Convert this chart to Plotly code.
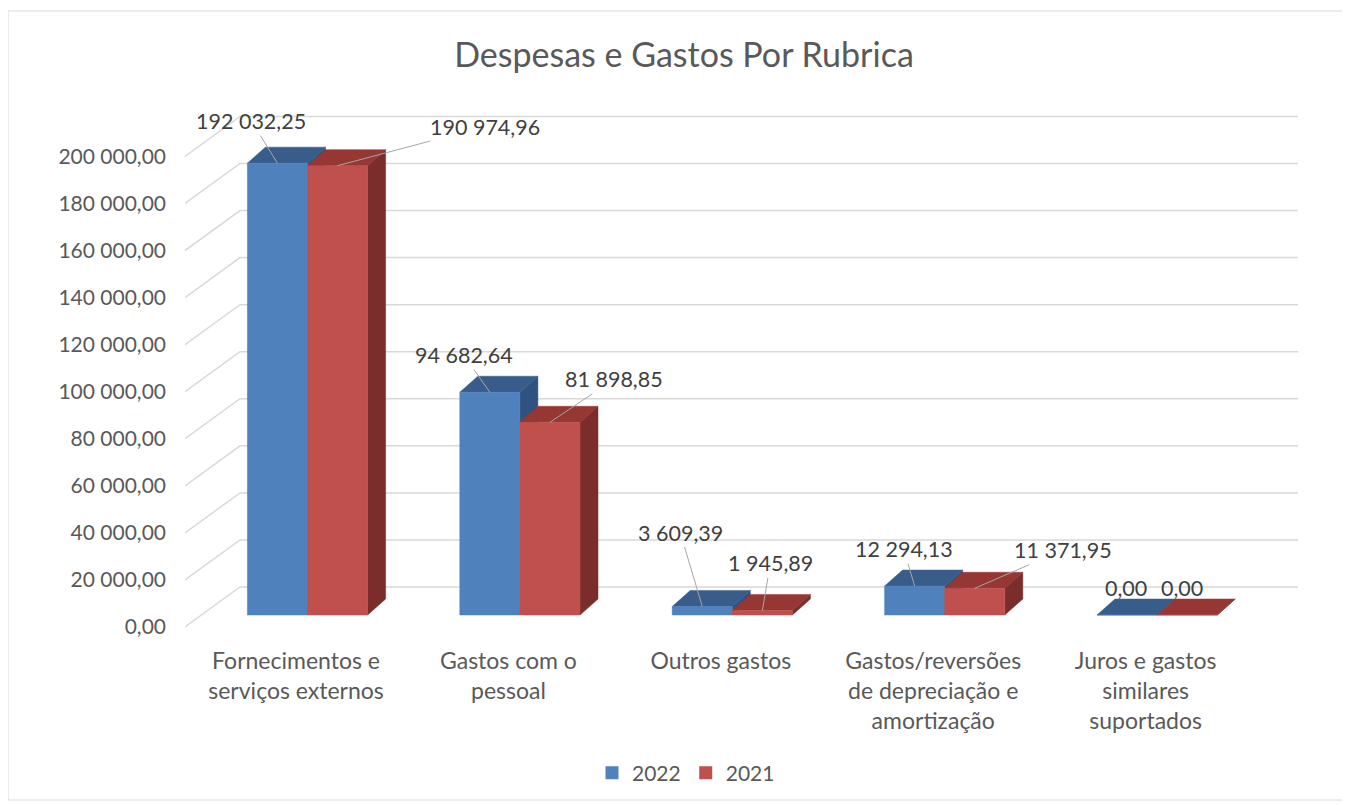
import plotly.graph_objects as go

# ---------------- data ----------------
categories = [
    "Fornecimentos e<br>serviços externos",
    "Gastos com o<br>pessoal",
    "Outros gastos",
    "Gastos/reversões<br>de depreciação e<br>amortização",
    "Juros e gastos<br>similares<br>suportados",
]
series_names = ["2022", "2021"]
values_2022 = [192032.25, 94682.64, 3609.39, 12294.13, 0.00]
values_2021 = [190974.96, 81898.85, 1945.89, 11371.95, 0.00]
y_ticks = [0, 20000, 40000, 60000, 80000, 100000, 120000, 140000, 160000, 180000, 200000]

# ---------------- style / geometry ----------------
OFF = 8                      # page body margin in the browser
W, H = 1350 - OFF, 805 - OFF
# positions below are page pixels; converted to figure pixels by subtracting OFF
L, R, T, B = 185 - OFF, 1310 - OFF, 100 - OFF, 645 - OFF
PX_PER_CAT = 212.4
CAT0_PX = 307.5 - OFF
UNITS_PER_PX = 425.0
ZERO_PX = 627 - OFF

x_range = [(L - CAT0_PX) / PX_PER_CAT, (R - CAT0_PX) / PX_PER_CAT]
y_range = [(ZERO_PX - B) * UNITS_PER_PX, (ZERO_PX - T) * UNITS_PER_PX]

def px_x(p):
    return p / PX_PER_CAT

def px_y(p):
    return p * UNITS_PER_PX

bar_w = 0.283
front_base = px_y(12)
depth_x = px_x(18)
depth_y = px_y(16)
wall_dy = px_y(40)
wall_x0 = (240 - OFF - CAT0_PX) / PX_PER_CAT
wall_x1 = (1298 - OFF - CAT0_PX) / PX_PER_CAT
front_x0 = x_range[0]

colors = {
    "2022": {"front": "#4F81BD", "top": "#385D8A", "side": "#2F5280"},
    "2021": {"front": "#C0504D", "top": "#963734", "side": "#7A2D2B"},
}
grid_color = "#D9D9D9"
text_color = "#595959"
label_color = "#404040"
FONT = "Lato"

fig = go.Figure()

# ---- gridlines (back wall + side wall diagonals) ----
gx, gy = [], []
for t in y_ticks:
    gx += [front_x0, wall_x0, wall_x1, None]
    gy += [t, t + wall_dy, t + wall_dy, None]
fig.add_trace(go.Scatter(x=gx, y=gy, mode="lines", line=dict(color=grid_color, width=1.5),
                         hoverinfo="skip", showlegend=False))

# ---- 3D bars ----
def faces(vals, offset):
    fx, fy, tx, ty, sx, sy = [], [], [], [], [], []
    for i, v in enumerate(vals):
        l = i + offset
        r = l + bar_w
        b = front_base
        top = b + v
        fx += [l, r, r, l, l, None]
        fy += [b, b, top, top, b, None]
        tx += [l, r, r + depth_x, l + depth_x, l, None]
        ty += [top, top, top + depth_y, top + depth_y, top, None]
        sx += [r, r + depth_x, r + depth_x, r, r, None]
        sy += [b, b + depth_y, top + depth_y, top, b, None]
    return (fx, fy), (tx, ty), (sx, sy)

series = [("2022", values_2022, -bar_w), ("2021", values_2021, 0.0)]
for name, vals, off in series:
    (fx, fy), (tx, ty), (sx, sy) = faces(vals, off)
    c = colors[name]
    for (xx, yy, col) in [(sx, sy, c["side"]), (tx, ty, c["top"]), (fx, fy, c["front"])]:
        fig.add_trace(go.Scatter(x=xx, y=yy, mode="lines", fill="toself", fillcolor=col,
                                 line=dict(color=col, width=0.5), hoverinfo="skip",
                                 showlegend=False))

# legend entries
for name, _, _ in series:
    fig.add_trace(go.Scatter(x=[None], y=[None], mode="markers", name=name,
                             marker=dict(symbol="square", size=13, color=colors[name]["front"])))

# ---- data labels ----
def fmt(v):
    return f"{v:,.2f}".replace(",", " ").replace(".", ",")

label_offsets = {
    "2022": [(-26, -42), (-26, -37), (-22, -74), (-11, -37), (-1, -27)],
    "2021": [(147, -39), (64, -43), (8, -47), (88, -38), (-5, -27)],
}
for name, vals, off in series:
    for i, v in enumerate(vals):
        ax, ay = label_offsets[name][i]
        fig.add_annotation(
            x=i + off + bar_w / 2, y=front_base + v, text=fmt(v),
            showarrow=True, arrowhead=0, arrowwidth=1,
            arrowcolor="#A6A6A6" if v > 0 else "rgba(0,0,0,0)",
            ax=ax, ay=ay, axref="pixel", ayref="pixel",
            font=dict(family=FONT, size=21.5, color=label_color),
        )

# ---- chart border ----
fig.add_shape(type="rect", xref="paper", yref="paper",
              x0=(8 - OFF - L) / (R - L), x1=(1348 - OFF - L) / (R - L),
              y0=(B - (800 - OFF)) / (B - T), y1=(B - (11 - OFF)) / (B - T),
              line=dict(color=grid_color, width=1), layer="below")

fig.update_layout(
    width=W, height=H,
    margin=dict(l=L, r=W - R, t=T, b=H - B),
    paper_bgcolor="white", plot_bgcolor="white",
    title=dict(text="Despesas e Gastos Por Rubrica", x=(684 - OFF) / W, xanchor="center",
               y=1 - (55 - OFF) / H, yanchor="middle", yref="container",
               font=dict(family=FONT, size=34, color=text_color)),
    xaxis=dict(range=x_range, showgrid=False, zeroline=False, showline=False,
               tickvals=[i - 0.054 for i in range(len(categories))], ticktext=categories,
               tickfont=dict(family=FONT, size=23, color=text_color), ticks="", fixedrange=True),
    yaxis=dict(range=y_range, showgrid=False, zeroline=False, showline=False,
               tickvals=y_ticks, ticktext=[fmt(t) for t in y_ticks], ticks="",
               ticklabelstandoff=18,
               tickfont=dict(family=FONT, size=21, color=text_color), fixedrange=True),
    legend=dict(orientation="h", xref="container", yref="container",
                x=(686 - OFF) / W, xanchor="center", y=1 - (773 - OFF) / H, yanchor="middle",
                font=dict(family=FONT, size=21, color=text_color), itemwidth=30),
    showlegend=True,
)

fig.write_html("out.html")
